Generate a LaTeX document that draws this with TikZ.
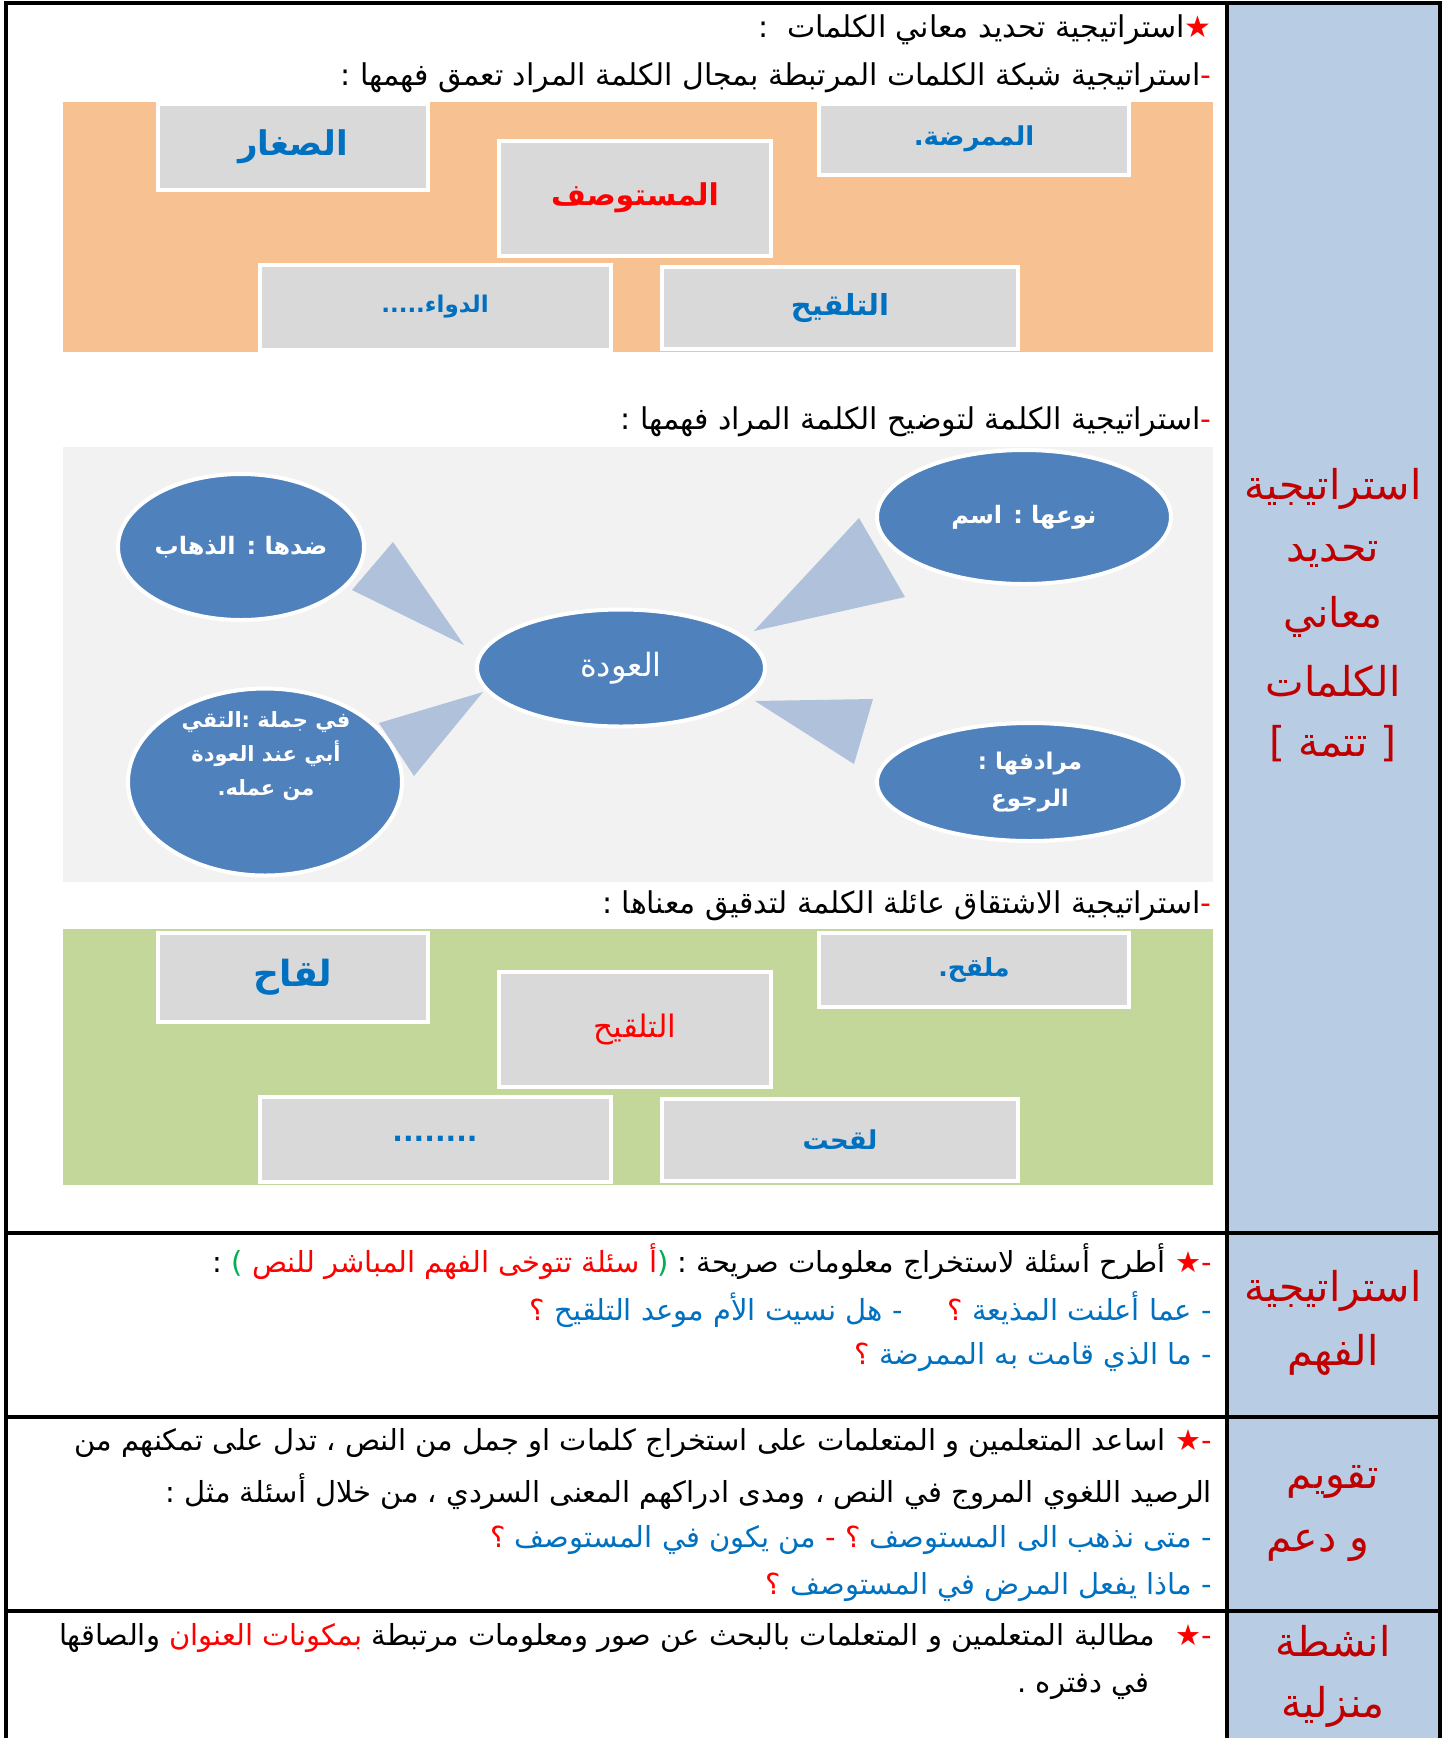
\documentclass[tikz,border=0pt]{standalone}
\usepackage{fontspec}
\usetikzlibrary{shapes.geometric}
\newfontfamily\arabicfont[Script=Arabic]{DejaVu Sans}
\TeXXeTstate=1
\definecolor{colblue}{HTML}{B8CCE4}
\definecolor{orangebg}{HTML}{F8C191}
\definecolor{greenbg}{HTML}{C4D79B}
\definecolor{graybg}{HTML}{F2F2F2}
\definecolor{boxgray}{HTML}{D9D9D9}
\definecolor{bub}{HTML}{4F81BD}
\definecolor{wedge}{HTML}{B0C1DC}
\definecolor{tblue}{HTML}{0070C0}
\definecolor{tred}{HTML}{FF0000}
\definecolor{dred}{HTML}{C00000}
\definecolor{tgreen}{HTML}{00B050}
\newcommand\rl[1]{\beginR #1\endR}
\newcommand\fs[1]{\fontsize{#1}{#1}\selectfont}
\newcommand\fsb[2]{\fontsize{#1}{#2}\selectfont}
\tikzset{
  txt/.style={inner sep=0pt, font=\arabicfont\fs{29}, anchor=east},
  head/.style={inner sep=0pt, font=\arabicfont\fs{30}, anchor=east},
  lbl/.style={inner sep=0pt, font=\arabicfont\fs{41}, text=dred},
  wbox/.style={draw=white, line width=4pt, fill=boxgray, inner sep=0pt, font=\arabicfont\bfseries},
  bubble/.style={ellipse, draw=white, line width=4pt, fill=bub, inner sep=0pt, text=white, font=\arabicfont\bfseries, align=center},
  tline/.style={line width=4.5pt, line cap=rect},
}
\begin{document}
\begin{tikzpicture}[x=1pt,y=-1pt]
\useasboundingbox (0,0) rectangle (1449,1738);
\fill[white] (0,0) rectangle (1449,1738);
% label column
\fill[colblue] (1227,3) rectangle (1440,1738);
% backgrounds
\fill[orangebg] (63,102) rectangle (1213,352);
\fill[graybg] (63,447) rectangle (1213,882);
\fill[greenbg] (63,929) rectangle (1213,1185);
% table lines
\coordinate (tl) at (6,3); \coordinate (tr) at (1440,3);
\draw[tline] (6,1738) -- (tl) -- (tr) -- (1440,1738);
\draw[tline] (1227,3) -- (1227,1738);
\draw[tline] (6,1233) -- (1440,1233);
\draw[tline] (6,1417) -- (1440,1417);
\draw[tline] (6,1611) -- (1440,1611);

% headings
\node[head] (h1) at (1212,30) {\rl{استراتيجية تحديد معاني الكلمات \ :}\textcolor{tred}{★}};
\node[head] (h2) at (1212,78) {\rl{استراتيجية شبكة الكلمات المرتبطة بمجال الكلمة المراد تعمق فهمها :}\textcolor{tred}{-}};
\node[head] (h3) at (1212,422) {\rl{استراتيجية الكلمة لتوضيح الكلمة المراد فهمها :}\textcolor{tred}{-}};
\node[head] (h4) at (1212,906) {\rl{استراتيجية الاشتقاق عائلة الكلمة لتدقيق معناها :}\textcolor{tred}{-}};

% orange boxes
\node[wbox, minimum width=270, minimum height=86, text=tblue, font=\arabicfont\bfseries\fs{34}] (b1) at (293,147) {\rl{الصغار}};
\node[wbox, minimum width=272, minimum height=115, text=tred, font=\arabicfont\bfseries\fs{30}] (b2) at (635,198) {\rl{المستوصف}};
\node[wbox, minimum width=310, minimum height=71, text=tblue, font=\arabicfont\bfseries\fs{26}] (b3) at (974,139) {\rl{الممرضة.}};
\node[wbox, minimum width=351, minimum height=85, text=tblue, font=\arabicfont\bfseries\fs{23}] (b4) at (435,307) {\rl{الدواء.....}};
\node[wbox, minimum width=356, minimum height=82, text=tblue, font=\arabicfont\bfseries\fs{29}] (b5) at (840,308) {\rl{التلقيح}};

% wedges
\fill[wedge] (393,542) -- (352,590) -- (464,645) -- cycle;
\fill[wedge] (483,692) -- (379,723) -- (414,776) -- cycle;
\fill[wedge] (859,518) -- (905,597) -- (754,631) -- cycle;
\fill[wedge] (755,701) -- (873,699) -- (854,764) -- cycle;

% bubbles
\node[bubble, minimum width=294, minimum height=134, font=\arabicfont\bfseries\fs{24}] (e1) at (1024,517) {\rl{نوعها : اسم}};
\node[bubble, minimum width=246, minimum height=146, font=\arabicfont\bfseries\fs{24}] (e2) at (241,547) {\rl{ضدها : الذهاب}};
\node[bubble, minimum width=288, minimum height=117, font=\arabicfont\fs{32}] (e3) at (621,668) {\rl{العودة}};
\node[bubble, minimum width=274, minimum height=187] (e4) at (265,782) {};
\node[inner sep=0pt, text=white, align=center, font=\arabicfont\bfseries\fsb{21}{34}] (e4t) at (266,756) {\rl{في جملة :التقي}\\\rl{أبي عند العودة}\\\rl{من عمله.}};
\node[bubble, minimum width=306, minimum height=118, font=\arabicfont\bfseries\fsb{23}{37}] (e5) at (1030,782) {\rl{مرادفها :}\\\rl{الرجوع}};

% green boxes
\node[wbox, minimum width=270, minimum height=89, text=tblue, font=\arabicfont\bfseries\fs{36}] (g1) at (293,977) {\rl{لقاح}};
\node[wbox, minimum width=272, minimum height=115, text=tred, font=\arabicfont\fs{31}] (g2) at (635,1029) {\rl{التلقيح}};
\node[wbox, minimum width=310, minimum height=74, text=tblue, font=\arabicfont\bfseries\fs{25}] (g3) at (974,970) {\rl{ملقح.}};
\node[wbox, minimum width=351, minimum height=85, text=tblue, font=\arabicfont\bfseries\fs{28}] (g4) at (435,1139) {........};
\node[wbox, minimum width=356, minimum height=82, text=tblue, font=\arabicfont\bfseries\fs{26}] (g5) at (840,1140) {\rl{لقحت}};

% row 2
\node[txt] (r2a) at (1212,1262) {\rl{:}\ \textcolor{tgreen}{)}\ \textcolor{tred}{\rl{أ سئلة تتوخى الفهم المباشر للنص}}\textcolor{tgreen}{(}\ \rl{أطرح أسئلة لاستخراج معلومات صريحة :}\hspace{10pt}\textcolor{tred}{-★}};
\node[txt, text=tblue] (r2b) at (1212,1310) {\textcolor{tred}{؟}\ \rl{- هل نسيت الأم موعد التلقيح}\hspace{45pt}\textcolor{tred}{؟}\ \rl{- عما أعلنت المذيعة}};
\node[txt, text=tblue] (r2c) at (1212,1357) {\textcolor{tred}{؟}\ \rl{- ما الذي قامت به الممرضة}};

% row 3
\node[txt] (r3a) at (1212,1443) {\rl{اساعد المتعلمين و المتعلمات على استخراج كلمات او جمل من النص ، تدل على تمكنهم من}\hspace{10pt}\textcolor{tred}{-★}};
\node[txt] (r3b) at (1212,1492) {\rl{الرصيد اللغوي المروج في النص ، ومدى ادراكهم المعنى السردي ، من خلال أسئلة مثل :}};
\node[txt, text=tblue] (r3c) at (1212,1540) {\textcolor{tred}{؟}\ \rl{من يكون في المستوصف}\ \textcolor{tred}{-\ ؟}\ \rl{- متى نذهب الى المستوصف}};
\node[txt, text=tblue] (r3d) at (1212,1587) {\textcolor{tred}{؟}\ \rl{- ماذا يفعل المرض في المستوصف}};

% row 4
\node[txt] (r4a) at (1212,1638) {\rl{والصاقها}\ \textcolor{tred}{\rl{بمكونات العنوان}}\ \rl{مطالبة المتعلمين و المتعلمات بالبحث عن صور ومعلومات مرتبطة}\hspace{20pt}\textcolor{tred}{-★}};
\node[txt] (r4b) at (1150,1687) {\rl{في دفتره .}};

% labels
\node[lbl] (l1) at (1333,489) {\rl{استراتيجية}};
\node[lbl] (l2) at (1333,554) {\rl{تحديد}};
\node[lbl] (l3) at (1333,617) {\rl{معاني}};
\node[lbl] (l4) at (1333,681) {\rl{الكلمات}};
\node[lbl] (l5) at (1333,744) {\rl{[ تتمة ]}};
\node[lbl] (l6) at (1333,1291) {\rl{استراتيجية}};
\node[lbl] (l7) at (1333,1355) {\rl{الفهم}};
\node[lbl] (l8) at (1333,1482) {\rl{تقويم}};
\node[lbl] (l9) at (1318,1546) {\rl{و دعم}};
\node[lbl] (l10) at (1333,1641) {\rl{انشطة}};
\node[lbl] (l11) at (1333,1707) {\rl{منزلية}};
\end{tikzpicture}
\end{document}
